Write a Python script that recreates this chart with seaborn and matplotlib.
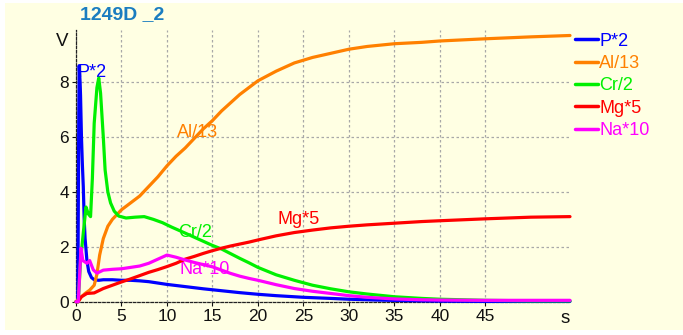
import pandas as pd
import matplotlib.pyplot as plt
import seaborn as sns
from matplotlib.patches import Rectangle
from matplotlib.transforms import blended_transform_factory

# Valores (tempo em s, sinal em V)
t_p = [0, 0.2, 0.3, 0.35, 0.45, 0.5, 0.6, 0.7, 0.8, 0.9, 1.0, 1.2, 1.4, 1.7, 2.0, 2.5, 3, 4, 5, 6, 7, 8, 9, 10,
       12, 14, 16, 18, 20, 22, 25, 28, 30, 33, 36, 40, 45, 50, 54.3]
v_p = [0, 0, 6.5, 8.6, 8.0, 7.5, 6.0, 5.0, 4.2, 3.0, 2.3, 1.5, 1.1, 0.88, 0.8, 0.78, 0.8, 0.8, 0.78, 0.78, 0.76,
       0.73, 0.68, 0.63, 0.55, 0.47, 0.4, 0.33, 0.27, 0.22, 0.16, 0.12, 0.09, 0.06, 0.04, 0.02, 0.01, 0.01, 0.01]

t_al = [0, 0.5, 1, 1.5, 2, 2.3, 2.6, 3, 3.5, 4, 5, 6, 7, 8, 9, 10, 11, 12, 13, 14, 15, 16, 17, 18, 19, 20,
        22, 24, 26, 28, 30, 32, 35, 38, 40, 45, 50, 54.3]
v_al = [0, 0.15, 0.3, 0.42, 0.6, 1.0, 1.7, 2.3, 2.75, 3.0, 3.35, 3.6, 3.85, 4.2, 4.55, 4.95, 5.3, 5.6, 5.95,
        6.3, 6.6, 6.95, 7.25, 7.55, 7.8, 8.05, 8.4, 8.7, 8.9, 9.05, 9.2, 9.3, 9.4, 9.45, 9.5, 9.58, 9.65, 9.7]

t_cr = [0, 0.25, 0.5, 0.8, 1.1, 1.35, 1.6, 1.8, 2.0, 2.3, 2.5, 2.7, 3.0, 3.2, 3.5, 3.8, 4.2, 4.7, 5.5, 6.5, 7.5,
        8.5, 9.5, 10.5, 12, 13, 14, 15, 16, 17, 18, 19, 20, 22, 24, 26, 28, 30, 32, 35, 38, 40, 45, 50, 54.3]
v_cr = [0, 0, 1.5, 2.5, 3.45, 3.2, 3.1, 4.5, 6.5, 7.8, 8.15, 7.6, 6.0, 4.8, 4.0, 3.6, 3.3, 3.12, 3.05, 3.08,
        3.1, 3.0, 2.88, 2.72, 2.5, 2.35, 2.2, 2.05, 1.92, 1.75, 1.58, 1.42, 1.25, 0.98, 0.78, 0.6, 0.47, 0.36,
        0.28, 0.18, 0.12, 0.09, 0.05, 0.03, 0.03]

t_mg = [0, 0.25, 0.6, 1.2, 2, 3, 4, 5, 6, 7, 8, 9, 10, 11, 12, 13, 14, 15, 16, 17, 18, 19, 20, 22, 24, 26, 28,
        30, 32, 35, 38, 40, 45, 50, 54.3]
v_mg = [0, 0, 0.18, 0.3, 0.32, 0.48, 0.6, 0.72, 0.83, 0.95, 1.07, 1.17, 1.28, 1.4, 1.55, 1.65, 1.76, 1.86,
        1.95, 2.03, 2.1, 2.17, 2.25, 2.4, 2.52, 2.61, 2.69, 2.75, 2.8, 2.86, 2.92, 2.95, 3.02, 3.08, 3.1]

t_na = [0, 0.25, 0.55, 0.75, 1.2, 1.5, 1.9, 2.3, 3, 4, 5, 6, 7, 8, 9, 10, 11, 12, 13, 14, 15, 16, 17, 18, 19,
        20, 22, 24, 26, 28, 30, 32, 35, 38, 40, 45, 50, 54.3]
v_na = [0, 0, 1.95, 1.5, 1.4, 1.5, 1.16, 1.04, 1.15, 1.18, 1.2, 1.25, 1.3, 1.4, 1.55, 1.7, 1.62, 1.52, 1.43,
        1.35, 1.27, 1.15, 1.03, 0.93, 0.85, 0.78, 0.62, 0.48, 0.38, 0.3, 0.22, 0.16, 0.1, 0.07, 0.06, 0.05,
        0.05, 0.05]

nomes = ['P*2', 'Al/13', 'Cr/2', 'Mg*5', 'Na*10']
cores = ['#0000FF', '#FF8000', '#00F000', '#FF0000', '#FF00FF']
xticks = [0, 5, 10, 15, 20, 25, 30, 35, 40, 45]
yticks = [0, 2, 4, 6, 8]

series = [(t_p, v_p), (t_al, v_al), (t_cr, v_cr), (t_mg, v_mg), (t_na, v_na)]
df = pd.concat([pd.DataFrame({'t': t, 'v': v, 'serie': n}) for (t, v), n in zip(series, nomes)],
               ignore_index=True)

sns.set_style('ticks')
plt.rcParams['font.family'] = ['Liberation Sans', 'DejaVu Sans']

fundo = '#FFFFE3'
fig = plt.figure(figsize=(6.83, 3.35), dpi=100, facecolor='white')
fig.patches.append(Rectangle((5 / 683, 5 / 335), 1, 1 - 8 / 335, transform=fig.transFigure,
                             facecolor=fundo, edgecolor='none', zorder=-10))
ax = fig.add_axes([76 / 683, 1 - 301.7 / 335, 494 / 683, 271.7 / 335])
ax.set_facecolor(fundo)

sns.lineplot(data=df, x='t', y='v', hue='serie', palette=dict(zip(nomes, cores)), sort=False,
             estimator=None, linewidth=2.3, ax=ax, zorder=3)

ax.set_xlim(0, 54.3)
ax.set_ylim(0, 9.9)
ax.set_xticks(xticks)
ax.set_yticks(yticks)
ax.tick_params(labelsize=12.5, length=3, width=0.8, pad=2, colors='#111111')
ax.set_xlabel('')
ax.set_ylabel('')
ax.grid(True, color='#A8A8A8', linestyle=(0, (2, 2)), linewidth=0.9)
for lado in ['top', 'right']:
    ax.spines[lado].set_visible(False)
for lado in ['left', 'bottom']:
    ax.spines[lado].set_linestyle((0, (2, 1.5)))
    ax.spines[lado].set_linewidth(0.9)
    ax.spines[lado].set_color('#222222')
for linha in ax.lines:
    linha.set_clip_on(False)

# Rótulos junto das curvas
rotulos = [('P*2', 0.2, 8.2), ('Al/13', 11.1, 6.0), ('Cr/2', 11.2, 2.35), ('Mg*5', 22.2, 2.84),
           ('Na*10', 11.35, 1.0)]
for (texto, x, y), cor in zip(rotulos, cores):
    ax.text(x, y, texto, color=cor, fontsize=13, ha='left', va='baseline', zorder=1)

# Legenda à direita
handles, labels = ax.get_legend_handles_labels()
ax.legend(handles, labels, loc='upper left', bbox_to_anchor=(575 / 683, 1 - 32.5 / 335),
          bbox_transform=fig.transFigure, frameon=False, fontsize=13, handlelength=1.3,
          handletextpad=0.05, labelspacing=0.3, borderpad=0, borderaxespad=0, labelcolor='linecolor')
for h in ax.get_legend().get_lines():
    h.set_linewidth(2.5)

fig.text(80 / 683, 1 - 15 / 335, '1249D _2', color='#1A7DC0', fontsize=14, fontweight='bold',
         ha='left', va='center')
fig.text(62 / 683, 1 - 41 / 335, 'V', fontsize=13.5, ha='center', va='center', color='#111111')
trans = blended_transform_factory(ax.transData, ax.transAxes)
ax.text(53.8, -0.03, 's', transform=trans, fontsize=13.5, ha='center', va='top', color='#111111')

fig.savefig('out.png', dpi=100, facecolor='white')
